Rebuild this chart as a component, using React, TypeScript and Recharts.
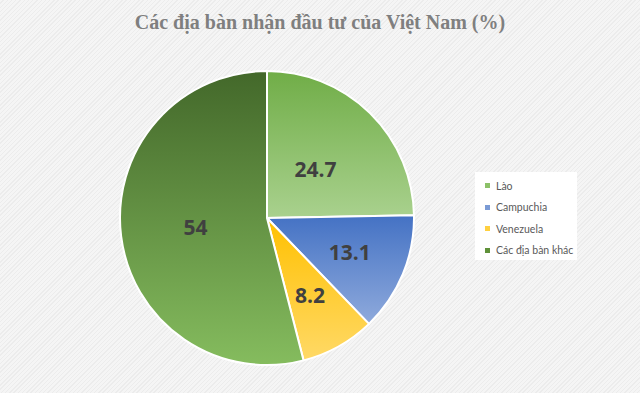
import { PieChart, Pie, Cell, Legend } from "recharts";

const regions = ["Lào", "Campuchia", "Venezuela", "Các địa bàn khác"];
const shares = [24.7, 13.1, 8.2, 54];
const chartTitle = "Các địa bàn nhận đầu tư của Việt Nam (%)";

// top / bottom colour of each slice gradient, plus legend swatch
const gradTop = ["#70ad47", "#4472c4", "#ffc000", "#43682a"];
const gradBottom = ["#a9d18e", "#8faadc", "#ffd966", "#85bc5e"];
const swatch = ["#8cc168", "#7b9bd5", "#ffd040", "#5f9139"];
// how far out each label sits, as a share of the radius
const labelRadius = [0.47, 0.61, 0.6, 0.49];

const data = regions.map((name, i) => ({ name, value: shares[i] }));

const RADIAN = Math.PI / 180;

const renderLabel = (props: any) => {
  const { cx, cy, midAngle, outerRadius, index, value } = props;
  const r = outerRadius * labelRadius[index];
  const x = cx + r * Math.cos(-midAngle * RADIAN);
  const y = cy + r * Math.sin(-midAngle * RADIAN);
  return (
    <text
      x={x}
      y={y}
      textAnchor="middle"
      dominantBaseline="central"
      fill="#404040"
      fontFamily="'Open Sans', sans-serif"
      fontWeight={700}
      fontSize={21}
    >
      {value}
    </text>
  );
};

const LegendBox = () => (
  <div
    style={{
      background: "#ffffff",
      width: 102,
      height: 88,
      boxSizing: "border-box",
      padding: "3px 0 0 10px",
      fontFamily: "Lato, 'Open Sans', sans-serif",
      fontSize: 10.5,
      color: "#595959",
      whiteSpace: "nowrap",
    }}
  >
    {regions.map((name, i) => (
      <div key={name} style={{ display: "flex", alignItems: "center", height: 21.5 }}>
        <span style={{ flex: "none", width: 5, height: 5, background: swatch[i], marginRight: 6 }} />
        <span>{name}</span>
      </div>
    ))}
  </div>
);

export default function App() {
  return (
    <div
      style={{
        position: "absolute",
        left: 0,
        top: 0,
        width: 640,
        height: 393,
        background:
          "repeating-linear-gradient(135deg, #f5f5f5 0px, #f5f5f5 2px, #ececec 2px, #ececec 3px)",
      }}
    >
      <PieChart width={640} height={393} margin={{ top: 0, right: 0, bottom: 0, left: 0 }}>
        <defs>
          {regions.map((_, i) => (
            <linearGradient key={i} id={`slice${i}`} x1="0" y1="0" x2="0" y2="1">
              <stop offset="0%" stopColor={gradTop[i]} />
              <stop offset="100%" stopColor={gradBottom[i]} />
            </linearGradient>
          ))}
        </defs>
        <text
          x={320}
          y={29}
          textAnchor="middle"
          fill="#7f7f7f"
          fontFamily="'Liberation Serif', 'Times New Roman', serif"
          fontWeight={700}
          fontSize={20}
        >
          {chartTitle}
        </text>
        <Pie
          data={data}
          dataKey="value"
          nameKey="name"
          cx={267}
          cy={218}
          outerRadius={147}
          startAngle={90}
          endAngle={-270}
          stroke="#ffffff"
          strokeWidth={2}
          label={renderLabel}
          labelLine={false}
          isAnimationActive={false}
        >
          {data.map((d, i) => (
            <Cell key={d.name} fill={`url(#slice${i})`} />
          ))}
        </Pie>
        <Legend
          content={<LegendBox />}
          wrapperStyle={{ left: 475, top: 172, width: 102, height: 88 }}
        />
      </PieChart>
    </div>
  );
}
